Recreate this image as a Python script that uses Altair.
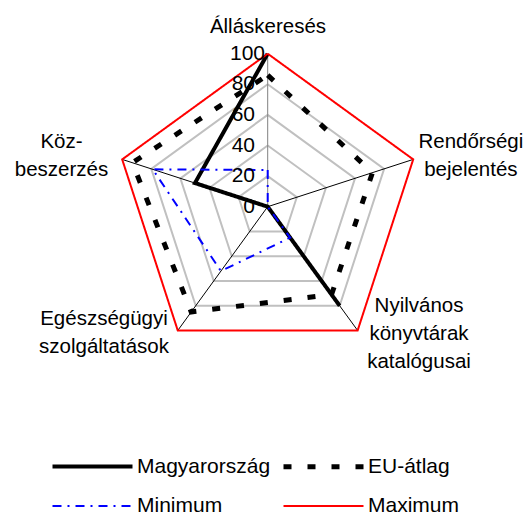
import math
import altair as alt
import pandas as pd

# ---- data ----
categories = ["Álláskeresés", "Rendőrségi\nbejelentés", "Nyilvános\nkönyvtárak\nkatalógusai",
              "Egészségügyi\nszolgáltatások", "Köz-\nbeszerzés"]
series_names = ["Magyarország", "EU-átlag", "Minimum", "Maximum"]
magyarorszag = [100, None, 80, 0, 50]
eu_atlag = [86, 72, 71, 85, 93]
minimum = [24, 0, 25, 52, 79]
maximum = [100, 100, 100, 100, 100]
grid_levels = [20, 40, 60, 80]
tick_values = [0, 20, 40, 60, 80, 100]

# ---- layout ----
PX = 1.53
W, H = 516, 504
cx, cy = 267.7 - 8, 206.7 - 8
xdom = [-cx / PX, (W - cx) / PX]
ydom = [-(H - cy) / PX, cy / PX]
angles = [90 - 72 * i for i in range(5)]

def pt(r, i):
    a = math.radians(angles[i])
    return r * math.cos(a), r * math.sin(a)

xs = alt.Scale(domain=xdom, nice=False, zero=False)
ys = alt.Scale(domain=ydom, nice=False, zero=False)
X = lambda f: alt.X(f, type="quantitative", scale=xs, axis=None)
Y = lambda f: alt.Y(f, type="quantitative", scale=ys, axis=None)

# grid pentagons
grows = []
for lv in grid_levels:
    for s, i in enumerate(list(range(5)) + [0]):
        x, y = pt(lv, i)
        grows.append({"lv": lv, "s": s, "x": x, "y": y})
grid = alt.Chart(pd.DataFrame(grows)).mark_line(color="#c0c0c0", strokeWidth=2).encode(
    x=X("x"), y=Y("y"), detail="lv:N", order="s:Q")

# spokes
srows = []
for i in range(5):
    x, y = pt(100, i)
    srows.append({"i": i, "x": 0, "y": 0, "x2": x, "y2": y, "main": i == 0})
spokes = alt.Chart(pd.DataFrame(srows)).mark_rule(strokeWidth=1).encode(
    x=X("x"), y=Y("y"), x2="x2:Q", y2="y2:Q",
    color=alt.condition("datum.main", alt.value("#808080"), alt.value("#000000")))

# series
rows = []
for name, vals in zip(series_names, [magyarorszag, eu_atlag, minimum, maximum]):
    if None in vals:
        k = vals.index(None)
        seq = [(k + j) % 5 for j in range(1, 5)]
        seq = [i for i in seq if vals[i] is not None]
    else:
        seq = list(range(5)) + [0]
    for s, i in enumerate(seq):
        x, y = pt(vals[i], i)
        rows.append({"series": name, "s": s, "x": x, "y": y})
sdf = pd.DataFrame(rows)

lines = alt.Chart(sdf).mark_line().encode(
    x=X("x"), y=Y("y"), order="s:Q",
    color=alt.Color("series:N", title=None,
                    scale=alt.Scale(domain=series_names,
                                    range=["#000000", "#000000", "#0000ff", "#ff0000"]),
                    legend=alt.Legend(orient="none", legendX=32, legendY=446, columns=2,
                                      direction="horizontal",
                                      columnPadding=0, rowPadding=18,
                                      symbolType="M0,0H8",
                                      symbolSize=400, labelFontSize=21,
                                      labelFont="Liberation Sans", labelColor="#000000",
                                      labelOffset=72, labelLimit=300, padding=0)),
    strokeDash=alt.StrokeDash("series:N", title=None,
                              scale=alt.Scale(type="ordinal", domain=series_names,
                                              range=[[1, 0], [8, 16], [9, 6, 2, 6], [1, 0]])),
    strokeWidth=alt.StrokeWidth("series:N", title=None,
                                scale=alt.Scale(type="ordinal", domain=series_names,
                                                range=[4, 5, 2, 2])),
)

# tick labels
tdf = pd.DataFrame({"v": tick_values, "x": [0] * len(tick_values)})
tick_lbl = alt.Chart(tdf).transform_filter("datum.v < 100").mark_text(
    align="right", baseline="middle", dx=-12.7, fontSize=21, font="Liberation Sans",
    color="#000000").encode(x=X("x"), y=Y("v"), text="v:Q")
tick_top = alt.Chart(tdf).transform_filter("datum.v == 100").mark_text(
    align="right", baseline="middle", dx=-2.7, fontSize=21, font="Liberation Sans",
    color="#000000").encode(x=X("x"), y=Y("v"), text="v:Q")

# category labels (first-line baseline positions)
lab_pos = [(0.2, 113.5), (132.8, 38.4), (98.9, -68.6), (-107.0, -77.3), (-134.8, 38.4)]
ldf = pd.DataFrame({"label": [c.split("\n") for c in categories],
                    "x": [p[0] for p in lab_pos], "y": [p[1] for p in lab_pos]})
cat_lbl = alt.Chart(ldf).mark_text(
    align="center", baseline="alphabetic", fontSize=20.5, font="Liberation Sans",
    lineHeight=28, color="#000000").encode(x=X("x"), y=Y("y"), text="label")

chart = alt.layer(grid, spokes, lines, tick_lbl, tick_top, cat_lbl).properties(
    width=W, height=H, autosize=alt.AutoSizeParams(type="none"), padding=0
).configure_view(stroke=None)

chart.save("out.html", embed_options={"renderer": "svg", "actions": False})
